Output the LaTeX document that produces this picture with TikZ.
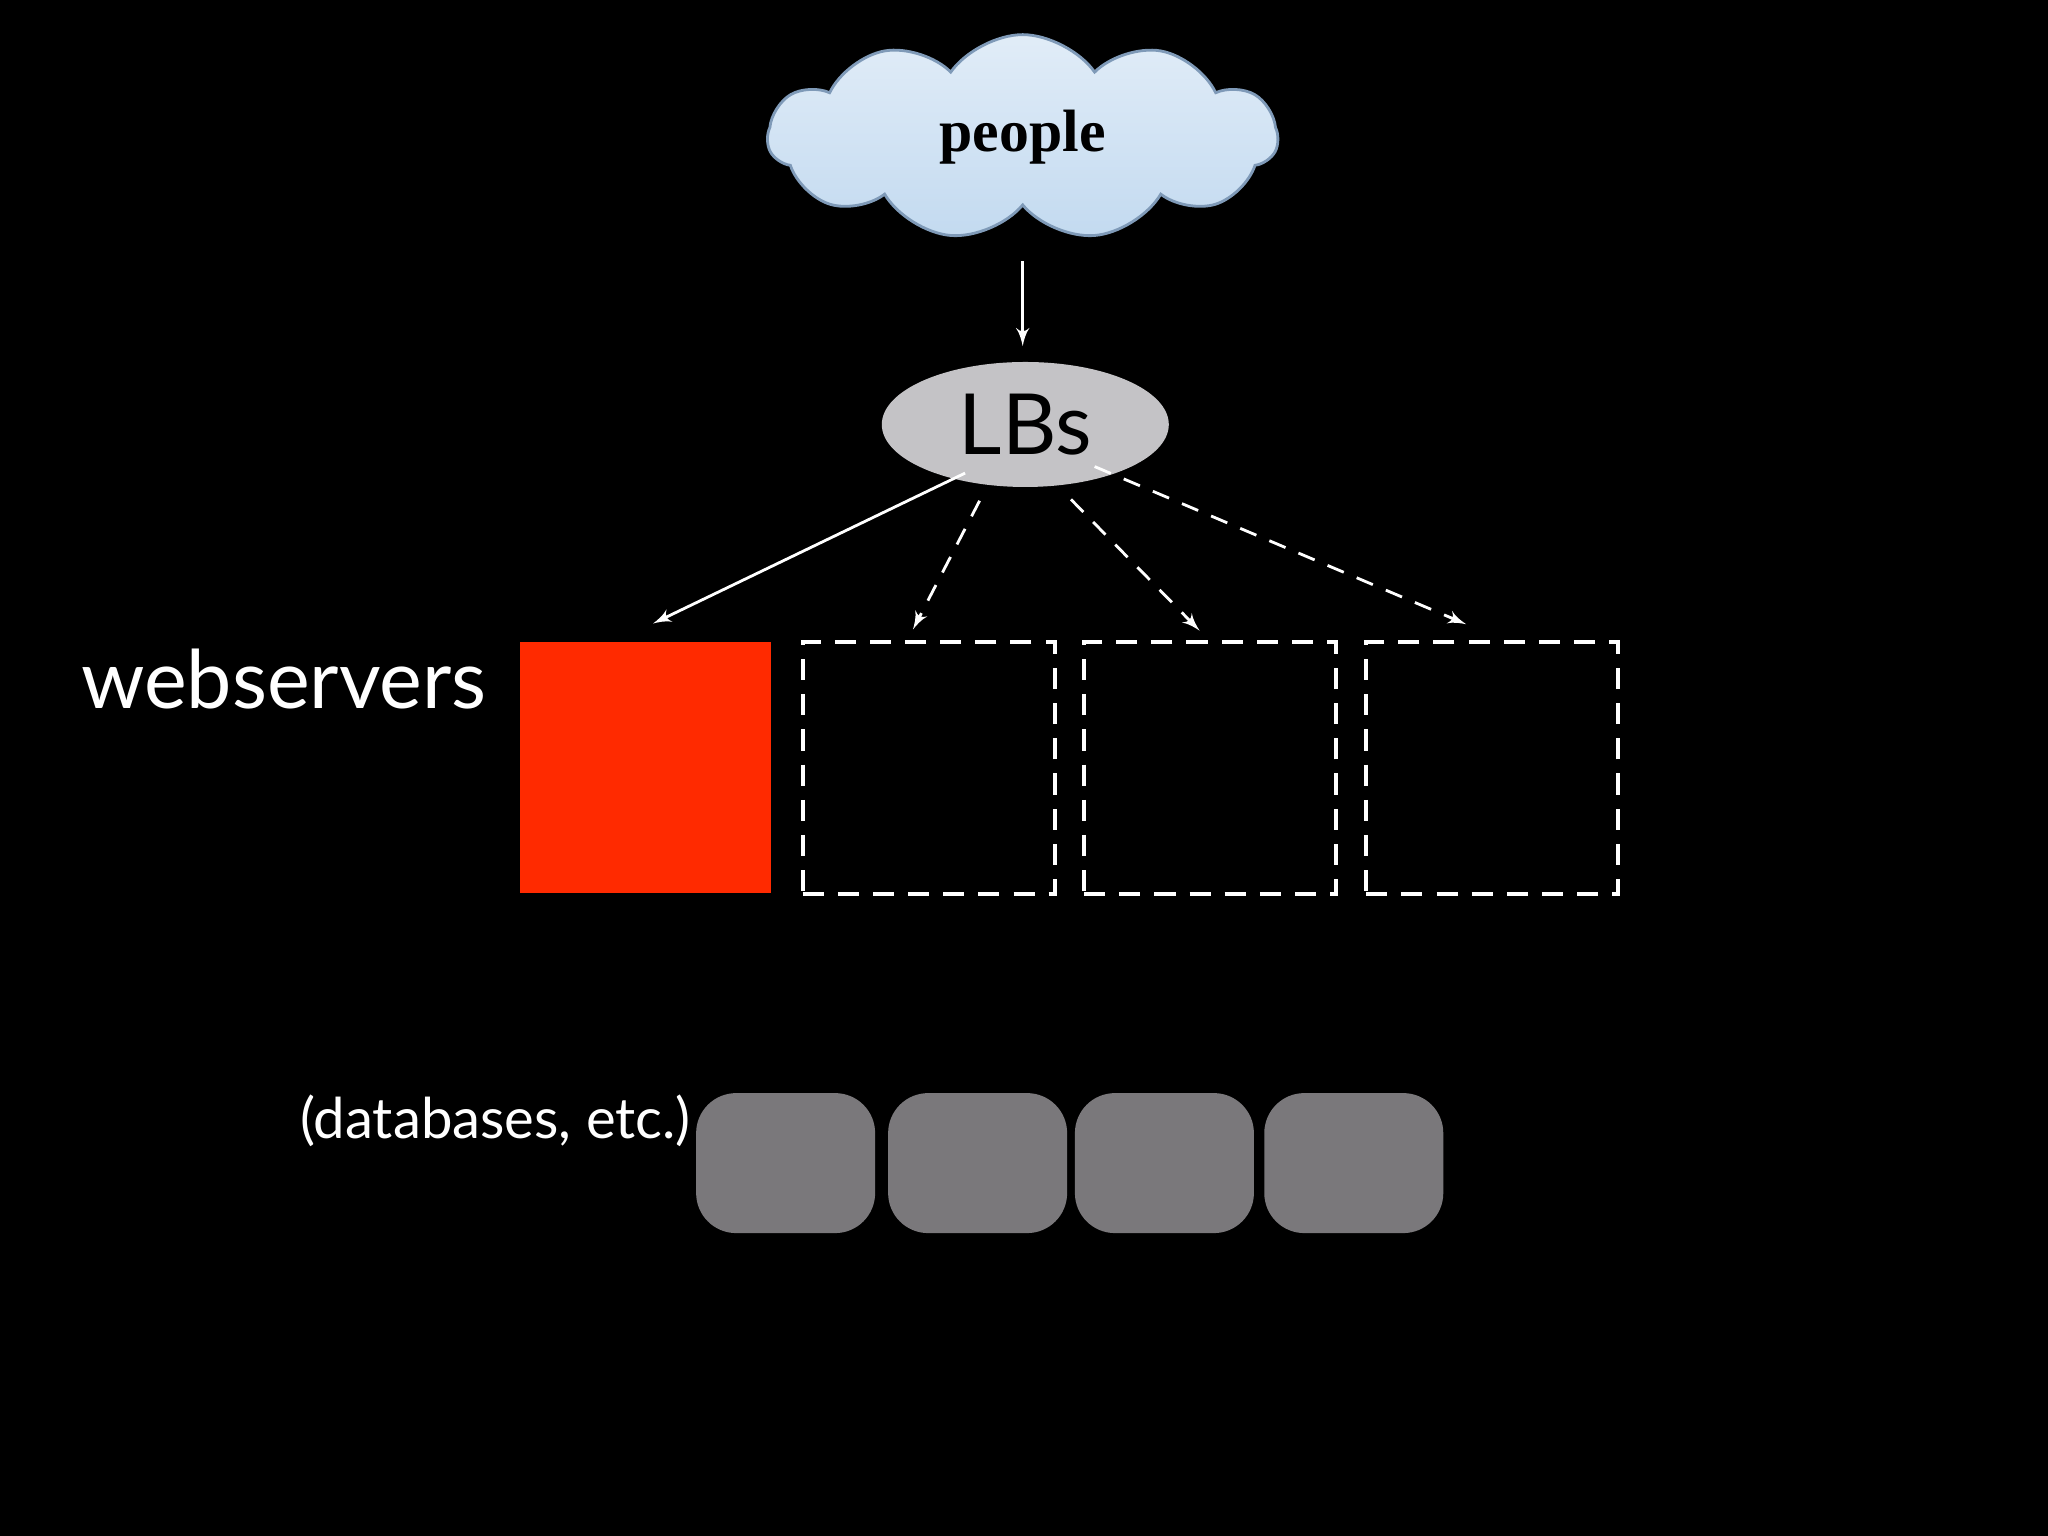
\documentclass[tikz,border=0pt]{standalone}
\usepackage{fontspec}
\setmainfont{Lato}
\newfontfamily\serifbold{Liberation Serif}
\usetikzlibrary{shapes.geometric,shapes.symbols,arrows}
\definecolor{cloudfill}{HTML}{C3DAF0}
\definecolor{cloudline}{HTML}{7F9AB8}
\definecolor{lbfill}{HTML}{C4C3C6}
\definecolor{webred}{HTML}{FF2A00}
\definecolor{dbgray}{HTML}{7A787B}
\tikzstyle{server} = [rectangle, draw=white, very thick, dash pattern=on 6pt off 4pt,
    minimum width=2.52cm, minimum height=2.52cm, inner sep=0pt]
\tikzstyle{db} = [rectangle, fill=dbgray, rounded corners=0.4cm,
    minimum width=1.79cm, minimum height=1.40cm, inner sep=0pt]
\tikzstyle{line} = [draw, thick, color=white, -latex']
\tikzstyle{dline} = [line, dash pattern=on 5pt off 4pt]
\begin{document}
\begin{tikzpicture}[x=0.01306cm, y=-0.01306cm]
  \fill[black] (0,0) rectangle (1568,1176);
  \useasboundingbox (0,0) rectangle (1568,1176);
    % Place nodes
    \node [cloud, cloud puffs=11, cloud puff arc=110, aspect=2.6, draw=cloudline, thick,
      top color=cloudfill!50, bottom color=cloudfill, minimum width=5.1cm, minimum height=2.05cm]
      (people) at (783,105) {\serifbold\fontsize{17}{20}\selectfont\bfseries people};
    \node [ellipse, fill=lbfill, minimum width=2.87cm, minimum height=1.25cm]
      (lbs) at (785,325) {\fontsize{24}{28}\selectfont LBs};
    \node [rectangle, fill=webred, minimum width=2.51cm, minimum height=2.51cm, inner sep=0pt]
      (web1) at (494,588) {};
    \node [server] (web2) at (711,588) {};
    \node [server] (web3) at (926.5,588) {};
    \node [server] (web4) at (1142.5,588) {};
    \node [anchor=east, text=white, font=\fontsize{23}{27}\selectfont] (weblabel) at (382,520) {webservers};
    \node [db] (db1) at (601.5,890.5) {};
    \node [db] (db2) at (748.5,890.5) {};
    \node [db] (db3) at (891.5,890.5) {};
    \node [db] (db4) at (1036.5,890.5) {};
    \node [anchor=east, text=white, font=\fontsize{16}{19}\selectfont, inner sep=1pt] (dblabel) at (532,858) {(databases, etc.)};
    \coordinate (c1) at (783,200);
    \coordinate (c2) at (783,265);
    % Draw edges
    \path [line] (c1) -- (c2);
    \path [line] (lbs.south west) ++(32,3) -- ([shift={(6,-14)}]web1.north);
    \path [dline] ([shift={(-35,10)}]lbs.south) -- ([shift={(-12,-8)}]web2.north);
    \path [dline] ([shift={(35,9)}]lbs.south) -- ([shift={(-8,-7)}]web3.north);
    \path [dline] ([shift={(-25,-2)}]lbs.south east) -- ([shift={(-20,-12)}]web4.north);
\end{tikzpicture}
\end{document}
